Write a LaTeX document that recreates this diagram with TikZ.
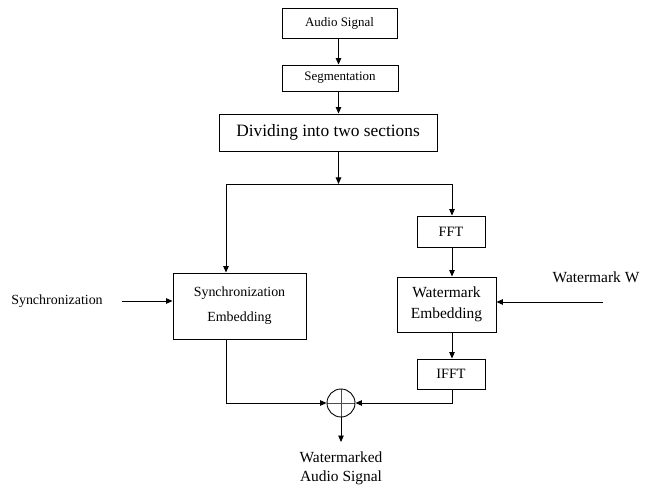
\documentclass[tikz,border=0pt]{standalone}
\usepackage{fontspec}
\setmainfont{Liberation Serif}
\usetikzlibrary{arrows.meta}
\begin{document}
\begin{tikzpicture}[x=1bp,y=-1bp,line width=0.9bp,
    box/.style={draw,line width=0.9bp,inner sep=0pt,align=center},
    arr/.style={-{Triangle[length=6.5bp,width=5.5bp]}}]
    \useasboundingbox (0,0) rectangle (651,489);
    % top chain
    \node (audio) at (339.5,23) [box,minimum width=115bp,minimum height=30bp,font=\fontsize{13}{15}\selectfont] {Audio Signal};
    \node (seg) at (340,78) [box,minimum width=116bp,minimum height=26bp,font=\fontsize{13}{15}\selectfont] {Segmentation};
    \node (divide) at (328,132.5) [box,minimum width=218bp,minimum height=37bp,font=\fontsize{17.4}{20}\selectfont] {Dividing into two sections};
    % two branches
    \node (sync) at (239.5,306) [box,minimum width=133bp,minimum height=66bp,font=\fontsize{14}{25}\selectfont] {Synchronization\\Embedding};
    \node (fft) at (451,231.5) [box,minimum width=68bp,minimum height=31bp,font=\fontsize{14.3}{17}\selectfont] {FFT};
    \node (wm) at (446.5,304.5) [box,minimum width=99bp,minimum height=55bp,font=\fontsize{15.5}{21}\selectfont] {Watermark\\Embedding};
    \node (ifft) at (451,374) [box,minimum width=68bp,minimum height=30bp,font=\fontsize{14.3}{17}\selectfont] {IFFT};
    \node (sum) at (341,403) [draw,circle,minimum size=28bp,inner sep=0pt,
        path picture={\draw[line width=0.7bp,black!70] (path picture bounding box.north) -- (path picture bounding box.south)
            (path picture bounding box.west) -- (path picture bounding box.east);}] {};
    % side inputs and output
    \node (synctext) at (57,301) [font=\fontsize{14}{17}\selectfont] {Synchronization};
    \node (wmtext) at (596,277) [font=\fontsize{15.5}{18}\selectfont] {Watermark W};
    \node (outtext) at (341,468) [align=center,font=\fontsize{15.5}{19}\selectfont] {Watermarked\\Audio Signal};
    \coordinate (split) at (338.5,184);
    \coordinate (splitL) at (226,184);
    \coordinate (splitR) at (452,184);
    \coordinate (syncin) at (122,301);
    \coordinate (wmin) at (603,302);
    \coordinate (out) at (341,442);
    % connectors
    \draw[arr] (audio.south -| split) -- (split |- seg.north);
    \draw[arr] (seg.south -| split) -- (split |- divide.north);
    \draw[arr] (divide.south -| split) -- (split);
    \draw (splitL) -- (splitR);
    \draw[arr] (splitL) -- (splitL |- sync.north);
    \draw[arr] (splitR) -- (splitR |- fft.north);
    \draw[arr] (fft.south -| splitR) -- (splitR |- wm.north);
    \draw[arr] (wm.south -| splitR) -- (splitR |- ifft.north);
    \draw[arr] (syncin) -- (syncin -| sync.west);
    \draw[arr] (wmin) -- (wmin -| wm.east);
    \draw[arr] (splitL |- sync.south) |- (sum.west);
    \draw[arr] (splitR |- ifft.south) |- (sum.east);
    \draw[arr] (sum.south) -- (out);
\end{tikzpicture}
\end{document}
